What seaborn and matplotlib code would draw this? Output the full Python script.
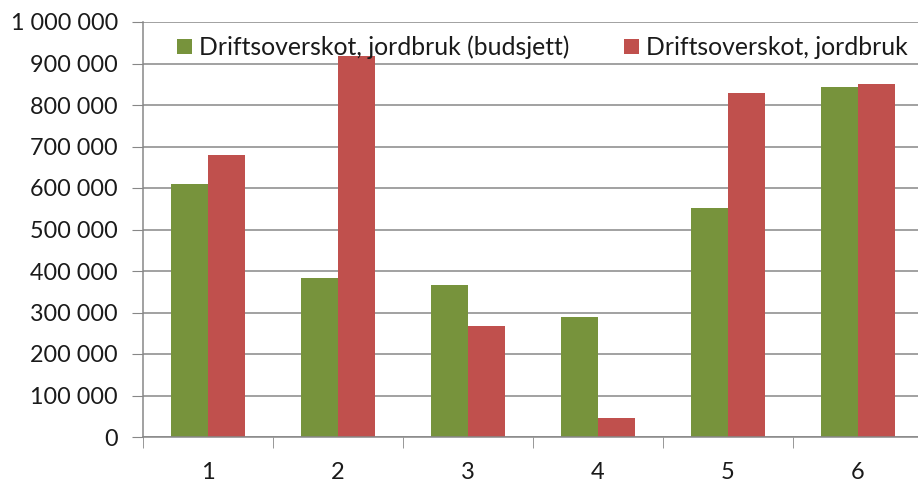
import matplotlib
matplotlib.use("Agg")
import matplotlib.pyplot as plt
import seaborn as sns
import pandas as pd
from matplotlib.ticker import FuncFormatter, FixedLocator

categories = ["1", "2", "3", "4", "5", "6"]
budsjett = [610000, 383000, 366000, 289000, 552000, 843000]
faktisk = [680000, 918000, 267000, 46000, 829000, 850000]
series_names = ["Driftsoverskot, jordbruk (budsjett)", "Driftsoverskot, jordbruk"]
colors = ["#77933C", "#C0504D"]

df = pd.DataFrame({
    "kategori": categories * 2,
    "verdi": budsjett + faktisk,
    "serie": [series_names[0]] * len(categories) + [series_names[1]] * len(categories),
})

sns.set_style("white")
plt.rcParams["font.family"] = ["Lato", "DejaVu Sans"]

fig = plt.figure(figsize=(9.18, 4.83), dpi=100)
ax = fig.add_axes([143/918, 1-437/483, (923-143)/918, (437-22)/483])

sns.barplot(data=df, x="kategori", y="verdi", hue="serie", palette=colors,
            width=0.57, gap=0, ax=ax, saturation=1, edgecolor="none", linewidth=0)

ax.set_ylim(0, 1000000)
ax.set_xlim(-0.5, 5.5)
ax.set_yticks(range(0, 1000001, 100000))
ax.yaxis.set_major_formatter(FuncFormatter(lambda v, p: f"{int(v):,}".replace(",", " ")))
ax.yaxis.grid(True, color="#878787", linewidth=1.1)
ax.set_axisbelow(True)
ax.set_xlabel("")
ax.set_ylabel("")

for s in ["top", "right"]:
    ax.spines[s].set_visible(False)
for s in ["left", "bottom"]:
    ax.spines[s].set_color("#878787")
    ax.spines[s].set_linewidth(1.1)

ax.tick_params(axis="y", which="major", direction="out", length=8, color="#878787",
               labelsize=16.8, labelcolor="#1a1a1a", pad=10, left=True)
ax.tick_params(axis="x", which="major", length=0, labelsize=17, labelcolor="#1a1a1a", pad=18)
ax.xaxis.set_minor_locator(FixedLocator([i - 0.5 for i in range(len(categories) + 1)]))
ax.tick_params(axis="x", which="minor", direction="out", length=8, color="#878787", bottom=True)

leg = ax.legend(loc="upper center", bbox_to_anchor=(0.512, 1.0), ncol=2, frameon=False,
                fontsize=17.8, handlelength=0.6, handleheight=0.6, handletextpad=0.3,
                columnspacing=2.2, borderaxespad=0.15)
for t in leg.get_texts():
    t.set_color("#1a1a1a")

fig.savefig("out.png", dpi=100)
